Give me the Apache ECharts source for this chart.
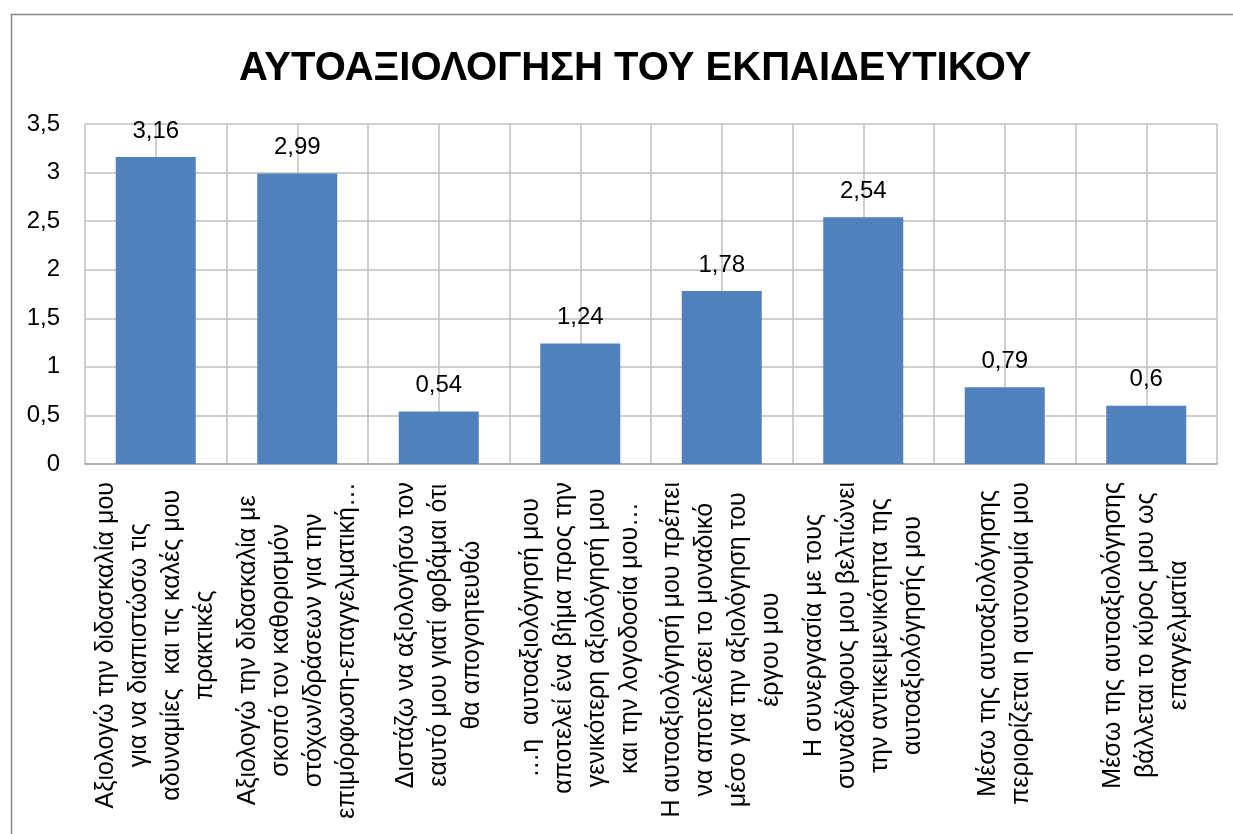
<!DOCTYPE html>
<html lang="el">
<head>
    <meta charset="utf-8">
    <title>ΑΥΤΟΑΞΙΟΛΟΓΗΣΗ ΤΟΥ ΕΚΠΑΙΔΕΥΤΙΚΟΥ</title>
    <script src="https://cdn.jsdelivr.net/npm/echarts@6/dist/echarts.min.js"></script>
    <style>
        html, body { margin: 0; padding: 0; background: #fff; }
        #main { width: 1233px; height: 834px; }
    </style>
</head>
<body>
<div id="main"></div>
<script type="text/javascript">
    // data
    var categories = [
        'Αξιολογώ την διδασκαλία μου\nγια να διαπιστώσω τις\nαδυναμίες  και τις καλές μου\nπρακτικές',
        'Αξιολογώ την διδασκαλία με\nσκοπό τον καθορισμόν\nστόχων/δράσεων για την\nεπιμόρφωση-επαγγελματική…',
        'Διστάζω να αξιολογήσω τον\nεαυτό μου γιατί φοβάμαι ότι\nθα απογοητευθώ',
        '…η  αυτοαξιολόγησή μου\nαποτελεί ένα βήμα προς την\nγενικότερη αξιολόγησή μου\nκαι την λογοδοσία μου…',
        'Η αυτοαξιολόγησή μου πρέπει\nνα αποτελέσει το μοναδικό\nμέσο για την αξιολόγηση του\nέργου μου',
        'Η συνεργασία με τους\nσυναδέλφους μου βελτιώνει\nτην αντικειμενικότητα της\nαυτοαξιολόγησής μου',
        'Μέσω της αυτοαξιολόγησης\nπεριορίζεται η αυτονομία μου',
        'Μέσω της αυτοαξιολόγησης\nβάλλεται το κύρος μου ως\nεπαγγελματία'
    ];
    var values = [3.16, 2.99, 0.54, 1.24, 1.78, 2.54, 0.79, 0.6];
    var yTicks = [0, 0.5, 1, 1.5, 2, 2.5, 3, 3.5];

    var FONT = '"Liberation Sans", Arial, sans-serif';
    var GRID_COLOR = '#BFBFBF';

    function comma(v) {
        return String(v).replace('.', ',');
    }

    var chart = echarts.init(document.getElementById('main'));
    chart.setOption({
        backgroundColor: '#fff',
        animation: false,
        title: {
            text: 'ΑΥΤΟΑΞΙΟΛΟΓΗΣΗ ΤΟΥ ΕΚΠΑΙΔΕΥΤΙΚΟΥ',
            left: 234,
            top: 44,
            textStyle: {
                fontFamily: FONT,
                fontWeight: 'bold',
                fontSize: 40,
                color: '#000'
            }
        },
        // outer chart border
        graphic: [{
            type: 'rect',
            left: 9,
            top: 12,
            shape: { width: 1240, height: 840 },
            style: { fill: 'none', stroke: '#868686', lineWidth: 1.5 },
            silent: true
        }],
        grid: {
            left: 85,
            right: 16,
            top: 124,
            bottom: 370
        },
        xAxis: [
            {
                type: 'category',
                data: categories,
                axisLine: { lineStyle: { color: '#A6A6A6', width: 1.5 } },
                axisTick: { show: false },
                splitLine: { show: false },
                axisLabel: {
                    interval: 0,
                    rotate: 90,
                    align: 'right',
                    verticalAlign: 'middle',
                    margin: 18,
                    color: '#000',
                    formatter: function (v) {
                        return v.split('\n').map(function (l) {
                            return '{c|' + l + '}';
                        }).join('\n');
                    },
                    rich: {
                        c: {
                            align: 'center',
                            fontFamily: FONT,
                            fontSize: 25,
                            lineHeight: 33,
                            color: '#000'
                        }
                    }
                }
            },
            {
                // vertical gridlines every half category
                type: 'value',
                min: 0,
                max: categories.length * 2,
                interval: 1,
                position: 'bottom',
                axisLine: { show: false },
                axisTick: { show: false },
                axisLabel: { show: false },
                splitLine: { show: true, lineStyle: { color: GRID_COLOR, width: 1.5 } }
            }
        ],
        yAxis: {
            type: 'value',
            min: yTicks[0],
            max: yTicks[yTicks.length - 1],
            interval: 0.5,
            axisLine: { show: false },
            axisTick: { show: false },
            splitLine: { lineStyle: { color: GRID_COLOR, width: 1.5 } },
            axisLabel: {
                margin: 25,
                color: '#000',
                fontFamily: FONT,
                fontSize: 24,
                formatter: comma
            }
        },
        series: [
            {
                type: 'bar',
                xAxisIndex: 0,
                data: values,
                barWidth: 80,
                itemStyle: { color: '#4F81BD' },
                label: {
                    show: true,
                    position: 'top',
                    distance: 14,
                    color: '#000',
                    fontFamily: FONT,
                    fontSize: 24,
                    formatter: function (p) { return comma(p.value); }
                }
            }
        ]
    });
</script>
</body>
</html>
